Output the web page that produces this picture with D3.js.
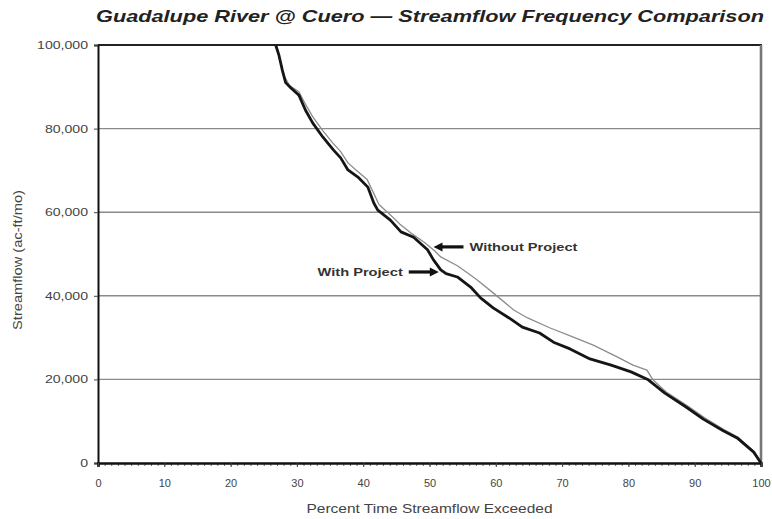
<!DOCTYPE html>
<html>
<head>
<meta charset="utf-8">
<script src="https://cdn.jsdelivr.net/npm/d3@7"></script>
<style>
  html, body { margin: 0; padding: 0; background: #fff; }
  svg { display: block; }
  text { font-family: "Liberation Sans", Arial, sans-serif; }
</style>
</head>
<body>
<svg id="chart" width="772" height="519"></svg>
<script>
// Flow duration curves, Guadalupe River at Cuero: [percent time exceeded, ac-ft/mo]
const withProject = [
  [26.8,100000],[27.3,97500],[27.8,94000],[28.3,91000],[29.1,89700],[30.3,88000],
  [31.3,84400],[32.4,81300],[33.9,78000],[35.5,74900],[36.6,73000],[37.7,70100],
  [39.2,68400],[40.7,66000],[41.6,62200],[42.2,60500],[44.1,58100],[45.7,55300],
  [47.6,54000],[49.7,51000],[50.6,48600],[51.7,46200],[52.5,45300],[54.2,44500],
  [56.2,42100],[57.7,39500],[59.6,37100],[62.0,34700],[64.0,32500],[66.6,31100],
  [68.7,28900],[71.2,27300],[74.2,24900],[77.4,23400],[80.4,21800],[83.0,19900],
  [85.5,16700],[88.7,13400],[91.3,10500],[94.3,7700],[96.4,6000],[98.9,2600],[100,0]
];
const withoutProject = [
  [26.8,100000],[27.5,96000],[28.1,92500],[28.9,90300],[30.3,88800],[31.3,85800],
  [32.4,82800],[33.9,79500],[35.4,76600],[36.6,74500],[37.7,71800],[39.0,70000],
  [40.6,67800],[41.5,64800],[42.4,61800],[43.8,59800],[45.5,57200],[47.2,55000],
  [49.2,52800],[50.8,50700],[51.7,49300],[54.2,47200],[55.7,45500],[57.2,43800],
  [59.6,40700],[62.7,36600],[64.8,34700],[68.2,32300],[71.7,30100],[74.7,28200],
  [78.3,25400],[80.7,23400],[82.8,22200],[83.7,19900],[85.7,17000],[88.9,13700],
  [91.5,10800],[94.4,8000],[96.5,6200],[99.0,2700],[100,0]
];
const xTicks = [0, 10, 20, 30, 40, 50, 60, 70, 80, 90, 100];
const yTicks = [0, 20000, 40000, 60000, 80000, 100000];
// Callout anchors: [label, percent, flow, side]
const callouts = [
  ["Without Project", 50.6, 51700, "right"],
  ["With Project", 51.4, 45700, "left"]
];

const svg = d3.select("#chart");
const plot = { left: 98, right: 761, top: 45, bottom: 463 };

const x = d3.scaleLinear().domain([0, 100]).range([plot.left, plot.right]);
const y = d3.scaleLinear().domain([0, 100000]).range([plot.bottom, plot.top]);

// Widen text horizontally to the broad face used on this chart
function widen(sel, factor) {
  sel.each(function () {
    const w = this.getComputedTextLength();
    d3.select(this).attr("textLength", w * factor).attr("lengthAdjust", "spacingAndGlyphs");
  });
}

// Title
svg.append("text")
  .attr("x", 430).attr("y", 22)
  .attr("text-anchor", "middle")
  .style("font-size", "17px").style("font-weight", "bold").style("font-style", "italic")
  .attr("fill", "#222")
  .text("Guadalupe River @ Cuero \u2014 Streamflow Frequency Comparison")
  .attr("textLength", 668).attr("lengthAdjust", "spacingAndGlyphs");

// Horizontal gridlines
svg.append("g").selectAll("line")
  .data(yTicks.filter(d => d > 0 && d < 100000))
  .join("line")
  .attr("x1", plot.left).attr("x2", plot.right)
  .attr("y1", d => y(d)).attr("y2", d => y(d))
  .attr("stroke", "#8a8a8a").attr("stroke-width", 1.4);

// Frame: top and right edges
svg.append("line")
  .attr("x1", plot.left).attr("x2", plot.right + 1)
  .attr("y1", y(100000)).attr("y2", y(100000))
  .attr("stroke", "#222").attr("stroke-width", 2.2);
svg.append("line")
  .attr("x1", plot.right).attr("x2", plot.right)
  .attr("y1", plot.top).attr("y2", plot.bottom)
  .attr("stroke", "#777").attr("stroke-width", 2.6);

// Y axis
const yAxis = d3.axisLeft(y).tickValues(yTicks).tickSize(4).tickPadding(6)
  .tickFormat(d3.format(","));
const gy = svg.append("g").attr("transform", `translate(${plot.left},0)`).call(yAxis);
gy.select(".domain").attr("stroke", "#111").attr("stroke-width", 2);
gy.selectAll(".tick line").attr("stroke", "#444");
gy.selectAll(".tick text").attr("fill", "#444")
  .style("font-size", "11px").style("font-family", "'Liberation Sans', Arial, sans-serif")
  .call(widen, 1.28);

// X axis with minor ticks every percent
const gxMinor = svg.append("g").attr("transform", `translate(0,${plot.bottom})`)
  .call(d3.axisBottom(x).tickValues(d3.range(0, 101, 1)).tickSize(3).tickFormat(""));
gxMinor.select(".domain").remove();
gxMinor.selectAll(".tick line").attr("stroke", "#666");

const xAxis = d3.axisBottom(x).tickValues(xTicks).tickSize(4).tickPadding(12);
const gx = svg.append("g").attr("transform", `translate(0,${plot.bottom})`).call(xAxis);
gx.select(".domain").attr("stroke", "#111").attr("stroke-width", 2.6);
gx.selectAll(".tick line").attr("stroke", "#444");
gx.selectAll(".tick text").attr("fill", "#444")
  .style("font-size", "11px").style("font-family", "'Liberation Sans', Arial, sans-serif");

// Axis titles
svg.append("text")
  .attr("transform", `translate(22,${(plot.top + plot.bottom) / 2 + 6}) rotate(-90)`)
  .attr("text-anchor", "middle")
  .style("font-size", "12px").attr("fill", "#444")
  .text("Streamflow (ac-ft/mo)")
  .call(widen, 1.22);
svg.append("text")
  .attr("x", (plot.left + plot.right) / 2).attr("y", 513)
  .attr("text-anchor", "middle")
  .style("font-size", "12px").attr("fill", "#444")
  .text("Percent Time Streamflow Exceeded")
  .call(widen, 1.29);

// Curves
const line = d3.line().x(d => x(d[0])).y(d => y(d[1]));

svg.append("path").datum(withoutProject)
  .attr("d", line).attr("fill", "none")
  .attr("stroke", "#8c8c8c").attr("stroke-width", 1.3)
  .attr("stroke-linejoin", "round");
svg.append("path").datum(withProject)
  .attr("d", line).attr("fill", "none")
  .attr("stroke", "#151515").attr("stroke-width", 2.8)
  .attr("stroke-linejoin", "round");

// Callout arrows and labels
const arrowLen = 30;
callouts.forEach(([label, pct, flow, side]) => {
  const tx = x(pct), ty = y(flow);
  const dir = side === "right" ? 1 : -1;
  const g = svg.append("g");
  g.append("line")
    .attr("x1", tx + dir * 7).attr("x2", tx + dir * arrowLen)
    .attr("y1", ty).attr("y2", ty)
    .attr("stroke", "#111").attr("stroke-width", 3.2);
  g.append("path")
    .attr("d", `M${tx},${ty} L${tx + dir * 9},${ty - 4.5} L${tx + dir * 9},${ty + 4.5} Z`)
    .attr("fill", "#111");
  g.append("text")
    .attr("x", tx + dir * (arrowLen + 6)).attr("y", ty + 4)
    .attr("text-anchor", side === "right" ? "start" : "end")
    .style("font-size", "11px").style("font-weight", "bold").attr("fill", "#333")
    .text(label)
    .call(widen, 1.33);
});
</script>
</body>
</html>
